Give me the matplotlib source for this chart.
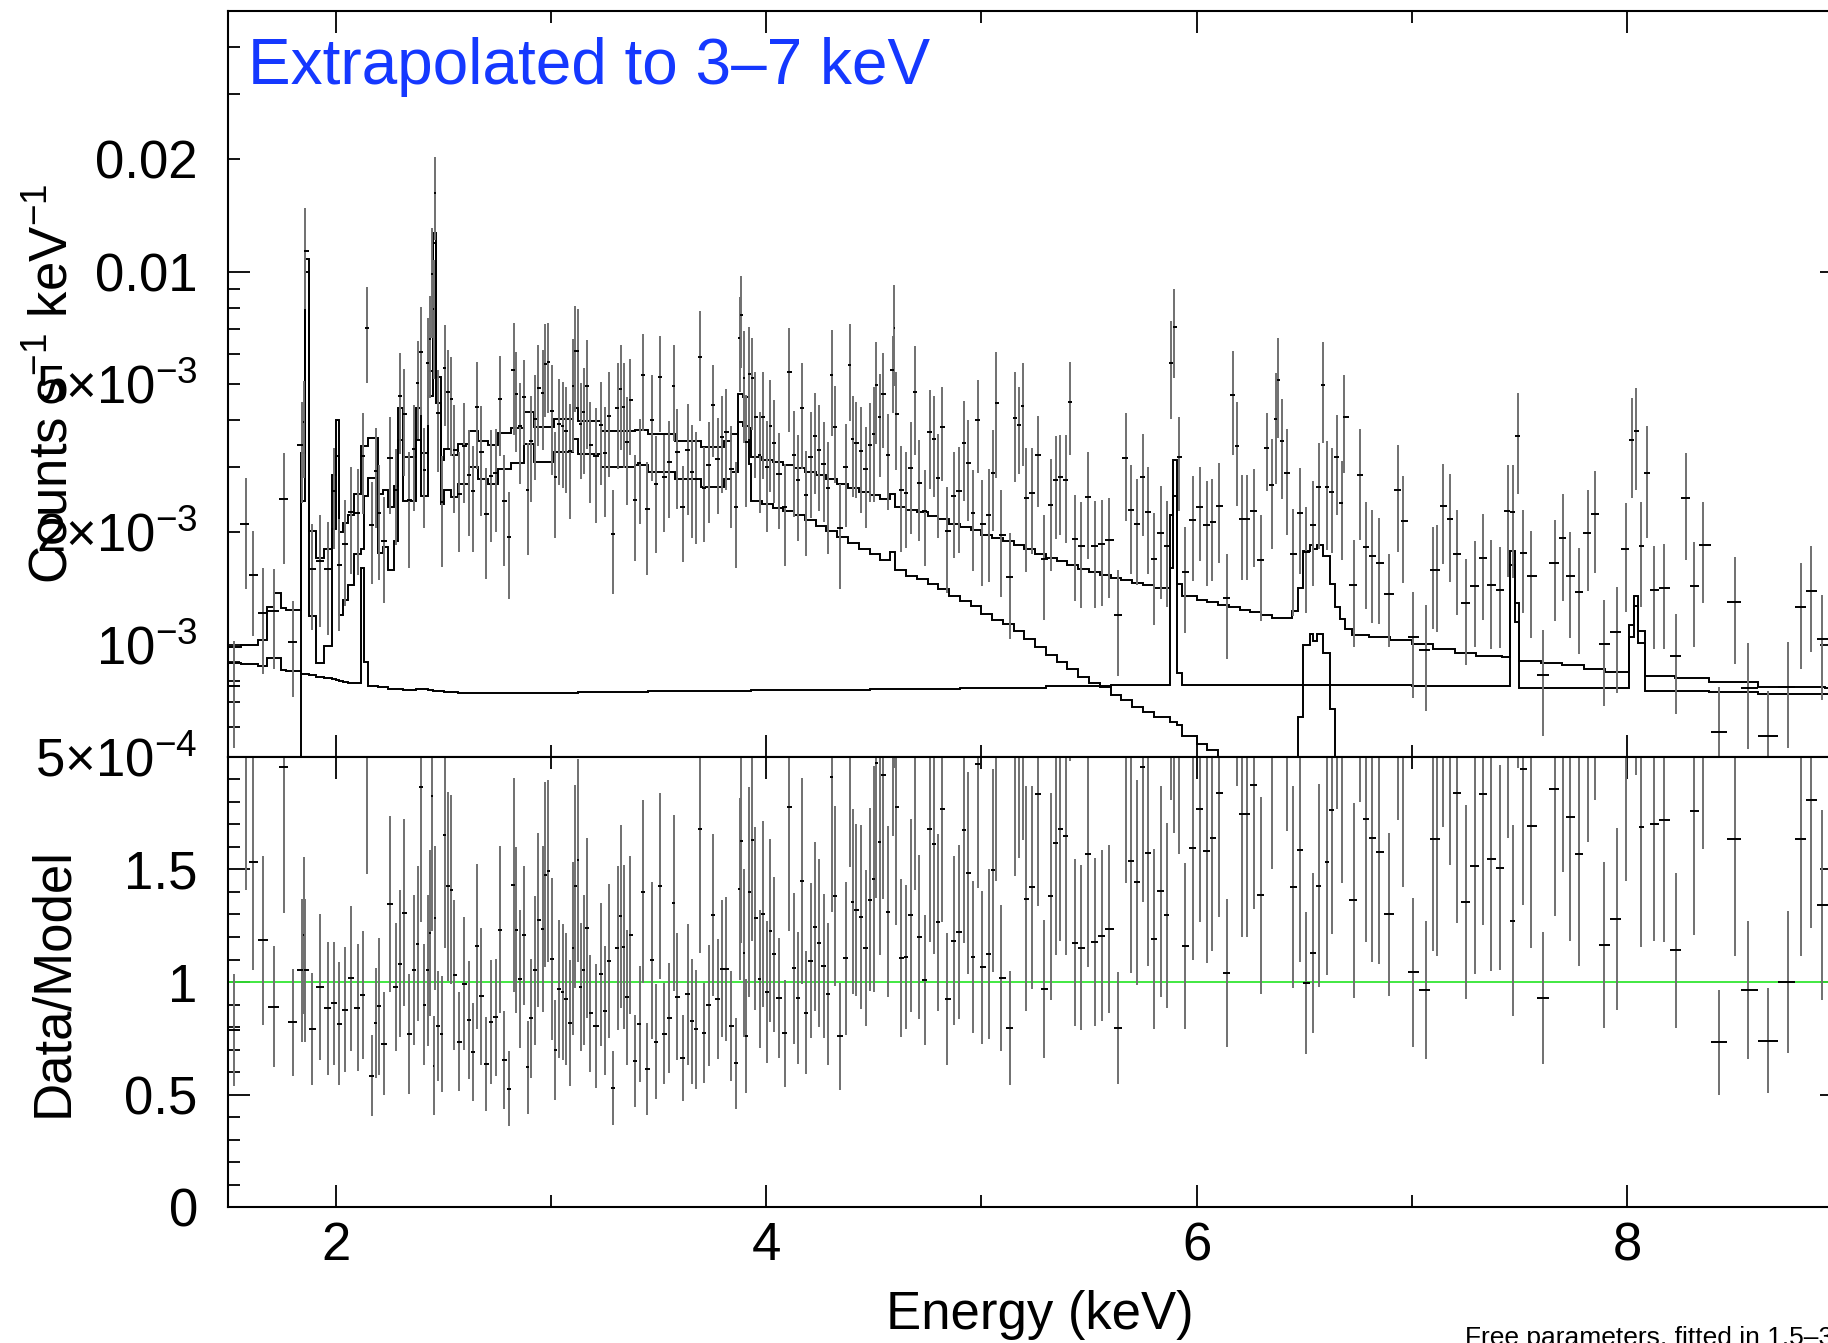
import numpy as np
import matplotlib
matplotlib.use("Agg")
import matplotlib.pyplot as plt
from matplotlib.ticker import MultipleLocator, LogLocator, FuncFormatter

plt.rcParams['font.family'] = ['Liberation Sans', 'DejaVu Sans']
plt.rcParams['mathtext.fontset'] = 'custom'
plt.rcParams['mathtext.rm'] = 'Liberation Sans'
plt.rcParams['mathtext.it'] = 'Liberation Sans:italic'
plt.rcParams['mathtext.bf'] = 'Liberation Sans:bold'

# model folded on its energy bins (keV); values in 1e-4 counts s^-1 keV^-1
model_edges = [
    1.500, 1.558, 1.636, 1.682, 1.713, 1.744, 1.767, 1.837, 1.857, 1.873,
    1.907, 1.946, 1.980, 2.000, 2.015, 2.031, 2.054, 2.085, 2.116, 2.132,
    2.147, 2.194, 2.217, 2.240, 2.271, 2.287, 2.310, 2.330, 2.372, 2.395,
    2.426, 2.450, 2.465, 2.488, 2.504, 2.535, 2.566, 2.620, 2.659, 2.705,
    2.752, 2.814, 2.876, 2.922, 3.015, 3.101, 3.124, 3.233, 3.388, 3.450,
    3.574, 3.698, 3.806, 3.837, 3.868, 3.891, 3.918, 3.930,
    3.980, 4.030, 4.080, 4.130, 4.180, 4.230, 4.280, 4.330, 4.380, 4.430,
    4.480, 4.530, 4.575, 4.600, 4.650, 4.700, 4.750, 4.800, 4.850, 4.900,
    4.950, 5.000, 5.050, 5.100, 5.150, 5.200, 5.250, 5.300, 5.350, 5.400,
    5.450, 5.500, 5.550, 5.600, 5.650, 5.700, 5.750, 5.800, 5.878, 5.890,
    5.907, 5.930, 6.000, 6.050, 6.100, 6.150, 6.200, 6.250, 6.300, 6.350,
    6.442, 6.473, 6.496, 6.527, 6.543, 6.558, 6.589, 6.620, 6.643, 6.667,
    6.690, 6.721, 6.800, 6.900, 7.000, 7.100, 7.200, 7.300, 7.420, 7.457,
    7.481, 7.499, 7.600, 7.700, 7.800, 7.900, 8.011, 8.031, 8.050, 8.085,
    8.225, 8.380, 8.610, 8.920, 9.000]

# thermal (source) component
source_model = [
    0.9, 1.15, 1.5, 3.4, 4.6, 4.0, 3.9, 24.3, 99.5, 11.9,
    8.9, 9.9, 20.4, 32.0, 12.0, 13.2, 14.4, 17.5, 18.0, 25.0,
    28.0, 17.6, 18.3, 15.8, 19.0, 35.4, 24.2, 24.2, 35.4, 25.0,
    46.5, 119.0, 44.5, 23.8, 26.0, 24.8, 27.0, 30.0, 27.7, 26.9,
    29.6, 30.7, 34.5, 30.9, 32.9, 35.6, 32.4, 30.0, 30.2, 29.1,
    27.7, 26.4, 27.7, 29.1, 39.5, 38.5, 30.5,
    24.25, 23.75, 23.25, 22.75, 22.25, 21.55, 20.85, 20.15, 19.45, 18.75,
    18.05, 17.5, 16.9, 17.7, 15.8, 15.3, 15.0, 14.5, 14.1, 13.5,
    13.05, 12.65, 12.05, 11.65, 11.35, 10.85, 10.35, 9.85, 9.38, 8.98,
    8.58, 8.18, 7.88, 7.68, 7.3, 7.1, 6.8, 6.6, 6.4, 6.2,
    6.2, 6.1, 5.7, 5.4, 5.2, 5.0, 4.8, 4.6, 4.4, 4.2,
    4.0, 4.5, 6.4, 10.0, 10.7, 10.2, 10.7, 9.5, 6.7, 4.8,
    3.9, 3.2, 2.8, 2.7, 2.5, 2.3, 1.95, 1.75, 1.55, 1.5,
    1.5, 1.45, 1.4, 1.3, 1.15, 0.95, 0.8, 0.8, 0.8, 0.8,
    0.75, 0.65, 0.5, 0.35, 0.3]

# flat background-like component with instrumental lines
bkg_model = [
    8.93, 8.85, 8.77, 9.18, 9.18, 8.55, 8.5, 8.34, 8.34, 8.3,
    8.2, 8.15, 8.1, 8.05, 8.0, 7.95, 7.9, 7.9, 16.0, 9.0,
    7.75, 7.7, 7.7, 7.6, 7.6, 7.6, 7.55, 7.55, 7.6, 7.6,
    7.55, 7.5, 7.5, 7.5, 7.45, 7.45, 7.4, 7.4, 7.4, 7.4,
    7.4, 7.4, 7.4, 7.4, 7.4, 7.4, 7.45, 7.45, 7.45, 7.5,
    7.5, 7.5, 7.5, 7.5, 7.5, 7.5, 7.5,
    7.55, 7.55, 7.55, 7.55, 7.55, 7.55, 7.55, 7.55, 7.55, 7.55,
    7.55, 7.6, 7.6, 7.6, 7.6, 7.6, 7.6, 7.6, 7.6, 7.6,
    7.65, 7.65, 7.65, 7.65, 7.65, 7.65, 7.65, 7.65, 7.72, 7.72,
    7.72, 7.72, 7.72, 7.72, 7.8, 7.8, 7.8, 7.8, 7.8, 16.0,
    25.0, 8.4, 7.8, 7.8, 7.8, 7.8, 7.8, 7.8, 7.8, 7.8,
    7.8, 7.8, 7.8, 7.8, 7.8, 7.8, 7.8, 7.8, 7.8, 7.8,
    7.8, 7.8, 7.8, 7.8, 7.8, 7.75, 7.75, 7.75, 7.75, 7.75,
    16.3, 11.5, 7.64, 7.64, 7.64, 7.64, 7.64, 10.5, 12.7, 10.1,
    7.5, 7.5, 7.45, 7.35, 7.35]

# data: bin centre (keV), data/model ratio and its 1-sigma error
energy = [
    1.527, 1.581, 1.615, 1.659, 1.713, 1.757, 1.799, 1.842, 1.850, 1.858,
    1.890, 1.927, 1.961, 1.992, 2.015, 2.042, 2.071, 2.101, 2.126, 2.144,
    2.166, 2.186, 2.198, 2.225, 2.251, 2.279, 2.299, 2.318, 2.341, 2.364,
    2.381, 2.395, 2.411, 2.428, 2.439, 2.448, 2.454, 2.462, 2.473, 2.491,
    2.507, 2.521, 2.535, 2.550, 2.573, 2.597, 2.617, 2.636, 2.656, 2.674,
    2.699, 2.721, 2.743, 2.761, 2.780, 2.806, 2.826, 2.839, 2.854, 2.873,
    2.891, 2.907, 2.926, 2.941, 2.961, 2.972, 2.988, 3.003, 3.020, 3.039,
    3.054, 3.070, 3.090, 3.104, 3.113, 3.124, 3.138, 3.152, 3.166, 3.183,
    3.209, 3.233, 3.251, 3.267, 3.288, 3.310, 3.325, 3.338, 3.353, 3.369,
    3.390,
    3.411, 3.429, 3.448, 3.468, 3.488, 3.505, 3.527, 3.550, 3.570, 3.586,
    3.612, 3.636, 3.656, 3.673, 3.690, 3.710, 3.733, 3.753, 3.775, 3.795,
    3.814, 3.837, 3.860, 3.876, 3.884, 3.896, 3.908, 3.922, 3.935, 3.950,
    3.969, 3.986, 4.005, 4.019, 4.036, 4.059, 4.087, 4.108, 4.127, 4.147,
    4.166, 4.186, 4.206, 4.226, 4.245, 4.267, 4.287, 4.304, 4.318, 4.343,
    4.369, 4.387, 4.401, 4.418, 4.440, 4.462, 4.484, 4.501, 4.512, 4.527,
    4.543, 4.566, 4.589, 4.595, 4.605, 4.625, 4.651, 4.671, 4.690, 4.708, 4.736,
    4.761, 4.780, 4.798, 4.819, 4.842, 4.871, 4.896, 4.919, 4.938, 4.961,
    4.984, 5.005, 5.034, 5.054, 5.070, 5.093, 5.132, 5.158, 5.175, 5.191,
    5.209, 5.236,
    5.264, 5.292, 5.323, 5.346, 5.366, 5.391, 5.411, 5.434, 5.465, 5.496,
    5.527, 5.561, 5.592, 5.636, 5.671, 5.695, 5.724, 5.750, 5.775, 5.803,
    5.833, 5.864, 5.883, 5.896, 5.918, 5.947, 5.985, 6.014, 6.047, 6.074,
    6.104, 6.141, 6.170, 6.188, 6.209, 6.236, 6.265, 6.298, 6.327, 6.349,
    6.367, 6.380, 6.395, 6.420, 6.448, 6.481, 6.510, 6.541, 6.569, 6.589,
    6.606, 6.628, 6.651, 6.675, 6.687, 6.732, 6.760, 6.786, 6.817, 6.850,
    6.895, 6.938, 6.961, 7.005, 7.065, 7.101,
    7.116, 7.147, 7.178, 7.209, 7.250, 7.295, 7.333, 7.369, 7.411, 7.446,
    7.470, 7.493, 7.516, 7.555, 7.609, 7.667, 7.701, 7.736, 7.778, 7.817,
    7.850, 7.895, 7.952, 7.997, 8.023, 8.042, 8.067, 8.093, 8.126, 8.171,
    8.228, 8.276, 8.312, 8.355, 8.426, 8.501, 8.563, 8.656, 8.747, 8.811,
    8.856, 8.907, 8.965]

ratio = [
    .788, 2.10, 1.532, 1.185, .890, 1.956, .821, 1.052, 1.207, 1.052,
    .791, .978, .884, .907, .815, .877, 1.016, .886, .942, 2.08,
    .585, .818, .892, .727, 1.348, .978, 1.081, 1.308, .770, 1.052,
    1.169, 1.865, .900, 1.052, 1.218, 1.825, .628, 1.283, .804, .770,
    1.652, 1.425, 1.410, 1.030, .736, .993, .830, .690, 1.159, .936,
    .637, .824, .843, 1.233, .655, .526, 1.430, 1.231, 1.012, 1.207,
    .621, .840, 1.052, 1.276, 1.236, 1.476, 1.492, 1.104, .700, .970,
    .954, .927, .818, 1.150, 1.425, 1.540, .979, 1.052, 1.241, .861,
    .804, 1.034, .873, 1.095, .529, 1.151, 1.292, 1.156, .933, 1.210,
    .650,
    .815, 1.401, .613, 1.096, .736, 1.425, .770, .841, 1.351, .935,
    .664, .945, .825, .791, 1.681, .776, .896, 1.296, .926, 1.059,
    1.058, .806, .639, 1.413, 1.624, 1.129, .761, 1.400, 1.631, 1.284,
    1.015, 1.302, .956, 1.228, 1.124, .929, .772, 1.778, 1.062, .929,
    1.449, .864, 1.095, 1.246, 1.173, 1.071, .948, 1.910, 1.381, .760,
    1.105, 2.13, 1.356, 1.320, 1.289, 1.151, 1.366, 1.458, 1.973, 1.622,
    1.920, 1.313, 2.15, 2.79, 1.775, 1.107, 1.110, 1.296, 2.08, 1.201, 1.009,
    1.680, 1.613, 1.265, 1.766, .926, 1.184, 1.222, 1.674, 1.484, 1.111,
    1.967, 1.065, 1.126, 1.496, 2.30, 1.019, .797, 2.19, 2.10, 2.35,
    1.370, 1.420,
    1.836, .969, 1.381, 1.619, 1.681, 1.650, 2.75, 1.175, 1.153, 1.567,
    1.178, 1.206, 1.236, .796, 2.12, 1.539, 1.443, 1.954, 1.572, 1.191,
    1.403, 1.296, 2.56, 2.27, 2.19, 1.160, 1.596, 1.766, 1.584, 1.640,
    1.840, 1.041, 3.71, 2.71, 1.748, 1.748, 1.874, 1.385, 2.81, 2.23,
    3.41, 4.34, 2.97, 2.44, 1.422, 1.588, .996, 1.130, 1.427, 2.87,
    1.533, 1.764, 2.52, 2.05, 3.48, 1.364, 2.69, 1.726, 1.640, 1.578,
    1.301, 2.52, 2.08, 1.043, .964, 1.636,
    1.637, 2.42, 2.24, 1.840, 1.356, 1.514, 1.833, 1.548, 1.508, 2.46,
    1.273, 2.80, 1.944, 1.692, .929, 1.855, 2.19, 1.732, 1.570, 2.32,
    2.60, 1.166, 1.281, 2.14, 3.12, 2.76, 1.687, 3.50, 1.701, 1.720,
    1.141, 3.04, 1.760, 2.27, .733, 1.636, .964, .739, 1.000, 1.634,
    1.809, 1.342, 1.35]

ratio_err = [
    .25, .69, .48, .374, .268, .65, .237, .317, .35, .318,
    .25, .326, .296, .273, .273, .277, .322, .281, .285, .6,
    .178, .244, .304, .23, .39, .282, .326, .415, .265, .333,
    .344, .6, .27, .335, .37, .6, .22, .32, .245, .256,
    .5, .42, .42, .333, .22, .296, .262, .218, .367, .306,
    .21, .275, .26, .37, .217, .167, .476, .37, .306, .31,
    .207, .264, .33, .385, .37, .41, .405, .36, .222, .307,
    .302, .293, .28, .385, .45, .45, .283, .333, .40, .26,
    .274, .318, .287, .342, .165, .364, .407, .363, .30, .35,
    .205,
    .257, .406, .205, .348, .255, .413, .224, .243, .39, .281,
    .19, .313, .276, .264, .55, .222, .27, .36, .267, .305,
    .32, .244, .202, .404, .45, .373, .254, .465, .45, .406,
    .306, .413, .315, .407, .344, .267, .236, .55, .335, .292,
    .457, .272, .345, .376, .372, .32, .316, .6, .4, .237,
    .34, .62, .41, .38, .407, .348, .406, .5, .6, .5,
    .55, .378, .5, .84, .52, .352, .32, .43, .67, .363, .29,
    .5, .49, .394, .5, .293, .375, .387, .5, .45, .337,
    .55, .338, .378, .45, .85, .324, .252, .72, .55, .72,
    .5, .45,
    .5, .306, .46, .5, .5, .53, .77, .372, .365, .5,
    .374, .381, .372, .25, .68, .5, .456, .6, .5, .398,
    .468, .41, .75, .61, .62, .367, .5, .5, .5, .5,
    .55, .327, 1.16, .84, .55, .55, .55, .437, .66, .73,
    1.12, 1.30, .89, .77, .45, .5, .315, .356, .45, .87,
    .5, .55, .75, .61, 1.02, .433, .89, .55, .55, .5,
    .362, .80, .66, .33, .306, .5,
    .52, .73, .72, .58, .43, .48, .58, .5, .455, .82,
    .424, .85, .6, .54, .292, .56, .70, .55, .5, .70,
    .79, .369, .404, .69, .94, .84, .53, 1.16, .52, .54,
    .344, .97, .55, .68, .233, .52, .306, .233, .316, .52,
    .57, .42, .42]

edges = np.array(model_edges)
src = np.array(source_model) * 1e-4
bkg = np.array(bkg_model) * 1e-4
total = src + bkg

e = np.array(energy)
r = np.array(ratio)
r_err = np.array(ratio_err)

# counts from ratio times the total model in the bin that holds each point
ibin = np.clip(np.searchsorted(edges, e, side='right') - 1, 0, len(total) - 1)
counts = r * total[ibin]
counts_err = r_err * total[ibin]

# bins meet half way between neighbouring centres
mid = 0.5 * (e[1:] + e[:-1])
lo = np.concatenate([[2 * e[0] - mid[0]], mid])
hi = np.concatenate([mid, [2 * e[-1] - mid[-1]]])
xerr = np.vstack([e - lo, hi - e])

bar_grey = '#707070'
lw = 1.4

fig = plt.figure(figsize=(18.28, 13.43), dpi=100)
ax1 = fig.add_axes([0.1249, 0.4365, 0.8828, 0.5554])
ax2 = fig.add_axes([0.1249, 0.1010, 0.8828, 0.3355])

# upper panel: folded spectrum and model components
ax1.errorbar(e, counts, yerr=counts_err, fmt='none', ecolor=bar_grey, elinewidth=lw)
ax1.errorbar(e, counts, xerr=xerr, fmt='none', ecolor='black', elinewidth=lw)
ax1.stairs(total, edges, color='black', lw=lw, baseline=None)
ax1.stairs(src, edges, color='black', lw=lw, baseline=None)
ax1.stairs(bkg, edges, color='black', lw=lw, baseline=None)
ax1.set_yscale('log')
ax1.set_ylim(5e-4, 0.05)
ax1.set_xlim(1.5, 9.0)

# lower panel: ratio
ax2.axhline(1.0, color='#33e633', lw=1.3)
ax2.errorbar(e, r, yerr=r_err, fmt='none', ecolor=bar_grey, elinewidth=lw)
ax2.errorbar(e, r, xerr=xerr, fmt='none', ecolor='black', elinewidth=lw)
ax2.set_ylim(0, 2)
ax2.set_xlim(1.5, 9.0)

top_labels = {(1, -2): '0.01', (2, -2): '0.02',
              (5, -3): r'$5{\times}10^{-3}$', (2, -3): r'$2{\times}10^{-3}$',
              (1, -3): r'$10^{-3}$', (5, -4): r'$5{\times}10^{-4}$'}


def log_label(v, pos):
    ex = int(np.floor(np.log10(v) + 1e-9))
    m = int(round(v / 10.0 ** ex))
    return top_labels.get((m, ex), '')


ratio_labels = {0: '0', 1: '0.5', 2: '1', 3: '1.5'}


def lin_label(v, pos):
    return ratio_labels.get(int(round(v * 2)), '')


ax1.yaxis.set_major_locator(LogLocator(base=10))
ax1.yaxis.set_minor_locator(LogLocator(base=10, subs=np.arange(2, 10)))
ax1.yaxis.set_major_formatter(FuncFormatter(log_label))
ax1.yaxis.set_minor_formatter(FuncFormatter(log_label))

ax2.yaxis.set_major_locator(MultipleLocator(0.5))
ax2.yaxis.set_minor_locator(MultipleLocator(0.1))
ax2.yaxis.set_major_formatter(FuncFormatter(lin_label))

for ax in (ax1, ax2):
    ax.xaxis.set_major_locator(MultipleLocator(2))
    ax.xaxis.set_minor_locator(MultipleLocator(1))
    ax.tick_params(which='both', direction='in', top=True, right=True,
                   width=1.3, labelsize=38)
    ax.tick_params(which='major', length=16)
    ax.tick_params(which='minor', length=8.5)
    ax.tick_params(axis='y', which='both', pad=22)
    ax.tick_params(axis='x', which='both', pad=10)
    for s in ax.spines.values():
        s.set_linewidth(1.5)
ax1.tick_params(labelbottom=False)

fig.text(0.0293, 0.714, 'Counts s$^{-1}$ keV$^{-1}$', rotation=90,
         ha='center', va='center', fontsize=38)
fig.text(0.0293, 0.269, 'Data/Model', rotation=90,
         ha='center', va='center', fontsize=38)
fig.text(0.569, 0.0104, 'Energy (keV)', ha='center', va='baseline', fontsize=38)
fig.text(0.1357, 0.9375, 'Extrapolated to 3\u20137 keV', color='#1538ff',
         fontsize=46, va='baseline')
fig.text(0.8014, -0.0015, 'Free parameters, fitted in 1.5\u20133 keV',
         fontsize=19, va='baseline')

fig.savefig('out.png', dpi=100)
